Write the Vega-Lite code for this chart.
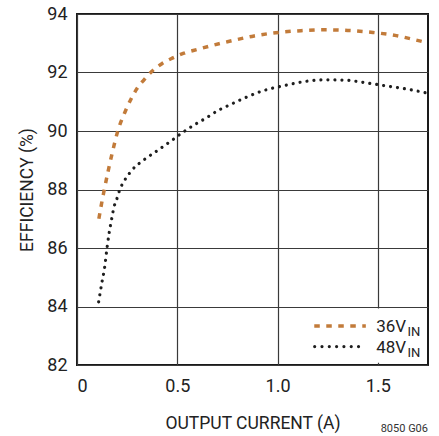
{
  "$schema": "https://vega.github.io/schema/vega-lite/v6.json",
  "width": 351,
  "height": 351,
  "autosize": {"type": "none"},
  "padding": {"left": 77, "top": 14, "right": 11, "bottom": 71},
  "background": "white",
  "title": {
    "text": "8050 G06",
    "orient": "bottom",
    "anchor": "end",
    "frame": "group",
    "font": "Roboto",
    "fontSize": 11,
    "fontWeight": "normal",
    "color": "#333",
    "offset": 0,
    "dy": -9
  },
  "config": {
    "font": "Roboto, sans-serif",
    "view": {"stroke": "#1a1a1a", "strokeWidth": 2},
    "axis": {
      "grid": true,
      "gridColor": "#3a3a3a",
      "gridWidth": 1.2,
      "domain": false,
      "ticks": false,
      "labelFont": "Roboto",
      "labelFontSize": 18,
      "labelColor": "#222",
      "titleFont": "Roboto",
      "titleFontSize": 17.5,
      "titleFontWeight": "normal",
      "titleColor": "#222"
    }
  },
  "datasets": {
    "curves": [
      {"vin": "36V", "current": 0.109, "efficiency": 87.0},
      {"vin": "36V", "current": 0.122, "efficiency": 87.5},
      {"vin": "36V", "current": 0.133, "efficiency": 87.89},
      {"vin": "36V", "current": 0.183, "efficiency": 89.46},
      {"vin": "36V", "current": 0.2, "efficiency": 89.92},
      {"vin": "36V", "current": 0.24, "efficiency": 90.66},
      {"vin": "36V", "current": 0.267, "efficiency": 91.06},
      {"vin": "36V", "current": 0.3, "efficiency": 91.46},
      {"vin": "36V", "current": 0.333, "efficiency": 91.74},
      {"vin": "36V", "current": 0.375, "efficiency": 92.05},
      {"vin": "36V", "current": 0.425, "efficiency": 92.31},
      {"vin": "36V", "current": 0.475, "efficiency": 92.49},
      {"vin": "36V", "current": 0.533, "efficiency": 92.66},
      {"vin": "36V", "current": 0.6, "efficiency": 92.79},
      {"vin": "36V", "current": 0.683, "efficiency": 92.94},
      {"vin": "36V", "current": 0.75, "efficiency": 93.05},
      {"vin": "36V", "current": 0.883, "efficiency": 93.25},
      {"vin": "36V", "current": 0.992, "efficiency": 93.36},
      {"vin": "36V", "current": 1.117, "efficiency": 93.43},
      {"vin": "36V", "current": 1.233, "efficiency": 93.46},
      {"vin": "36V", "current": 1.35, "efficiency": 93.44},
      {"vin": "36V", "current": 1.475, "efficiency": 93.37},
      {"vin": "36V", "current": 1.592, "efficiency": 93.26},
      {"vin": "36V", "current": 1.708, "efficiency": 93.08},
      {"vin": "36V", "current": 1.75, "efficiency": 93.01},
      {"vin": "48V", "current": 0.108, "efficiency": 84.16},
      {"vin": "48V", "current": 0.125, "efficiency": 84.85},
      {"vin": "48V", "current": 0.137, "efficiency": 85.3},
      {"vin": "48V", "current": 0.15, "efficiency": 86.02},
      {"vin": "48V", "current": 0.16, "efficiency": 86.5},
      {"vin": "48V", "current": 0.172, "efficiency": 86.96},
      {"vin": "48V", "current": 0.186, "efficiency": 87.44},
      {"vin": "48V", "current": 0.197, "efficiency": 87.64},
      {"vin": "48V", "current": 0.208, "efficiency": 87.89},
      {"vin": "48V", "current": 0.22, "efficiency": 88.1},
      {"vin": "48V", "current": 0.238, "efficiency": 88.32},
      {"vin": "48V", "current": 0.275, "efficiency": 88.67},
      {"vin": "48V", "current": 0.333, "efficiency": 89.01},
      {"vin": "48V", "current": 0.392, "efficiency": 89.29},
      {"vin": "48V", "current": 0.475, "efficiency": 89.69},
      {"vin": "48V", "current": 0.525, "efficiency": 89.94},
      {"vin": "48V", "current": 0.583, "efficiency": 90.2},
      {"vin": "48V", "current": 0.65, "efficiency": 90.47},
      {"vin": "48V", "current": 0.708, "efficiency": 90.72},
      {"vin": "48V", "current": 0.733, "efficiency": 90.8},
      {"vin": "48V", "current": 0.833, "efficiency": 91.12},
      {"vin": "48V", "current": 0.925, "efficiency": 91.37},
      {"vin": "48V", "current": 1.025, "efficiency": 91.54},
      {"vin": "48V", "current": 1.125, "efficiency": 91.68},
      {"vin": "48V", "current": 1.233, "efficiency": 91.75},
      {"vin": "48V", "current": 1.333, "efficiency": 91.74},
      {"vin": "48V", "current": 1.438, "efficiency": 91.65},
      {"vin": "48V", "current": 1.542, "efficiency": 91.54},
      {"vin": "48V", "current": 1.647, "efficiency": 91.43},
      {"vin": "48V", "current": 1.75, "efficiency": 91.29}
    ]
  },
  "layer": [
    {
      "data": {"name": "curves"},
      "transform": [{"filter": "datum.vin === '36V'"}],
      "mark": {"type": "line", "interpolate": "monotone", "color": "#c27b3a", "strokeWidth": 3.5, "strokeDash": [5.5, 6.5]},
      "encoding": {
        "x": {
          "field": "current", "type": "quantitative",
          "scale": {"domain": [0, 1.75], "nice": false},
          "axis": {
            "values": [0, 0.5, 1, 1.5],
            "labelExpr": "datum.value === 0 ? '0' : format(datum.value, '.1f')",
            "labelPadding": 12,
            "title": "OUTPUT CURRENT (A)",
            "titleX": 175.5, "titleY": 63, "titleBaseline": "alphabetic", "titleAlign": "center"
          }
        },
        "y": {
          "field": "efficiency", "type": "quantitative",
          "scale": {"domain": [82, 94], "nice": false, "zero": false},
          "axis": {
            "values": [82, 84, 86, 88, 90, 92, 94],
            "labelPadding": 10,
            "title": "EFFICIENCY (%)",
            "titleAngle": -90, "titleX": -45, "titleY": 175.5,
            "titleBaseline": "alphabetic", "titleAlign": "center"
          }
        }
      }
    },
    {
      "data": {"name": "curves"},
      "transform": [{"filter": "datum.vin === '48V'"}],
      "mark": {"type": "line", "interpolate": "monotone", "color": "#1e1e1e", "strokeWidth": 3.2, "strokeCap": "round", "strokeDash": [0.01, 7]},
      "encoding": {
        "x": {"field": "current", "type": "quantitative"},
        "y": {"field": "efficiency", "type": "quantitative"}
      }
    },
    {
      "data": {"values": [{}]},
      "mark": {"type": "rect", "color": "white"},
      "encoding": {
        "x": {"datum": 1.46}, "x2": {"datum": 1.72},
        "y": {"datum": 82.08}, "y2": {"datum": 83.93}
      }
    },
    {
      "data": {"values": [{}]},
      "mark": {"type": "rule", "color": "#c27b3a", "strokeWidth": 3.5, "strokeDash": [5.5, 6.5]},
      "encoding": {
        "x": {"datum": 1.183}, "x2": {"datum": 1.44},
        "y": {"datum": 83.33}
      }
    },
    {
      "data": {"values": [{}]},
      "mark": {"type": "rule", "color": "#1e1e1e", "strokeWidth": 3.2, "strokeCap": "round", "strokeDash": [0.01, 7.3]},
      "encoding": {
        "x": {"datum": 1.185}, "x2": {"datum": 1.44},
        "y": {"datum": 82.63}
      }
    },
    {
      "data": {"values": [{"label": "36V", "sub": "IN", "ly": 83.14, "sy": 82.99}, {"label": "48V", "sub": "IN", "ly": 82.40, "sy": 82.27}]},
      "layer": [
        {
          "mark": {"type": "text", "align": "left", "baseline": "alphabetic", "font": "Roboto", "fontSize": 17, "color": "#222"},
          "encoding": {
            "x": {"datum": 1.492},
            "y": {"field": "ly", "type": "quantitative"},
            "text": {"field": "label"}
          }
        },
        {
          "mark": {"type": "text", "align": "left", "baseline": "alphabetic", "font": "Roboto", "fontSize": 13, "color": "#222"},
          "encoding": {
            "x": {"datum": 1.648},
            "y": {"field": "sy", "type": "quantitative"},
            "text": {"field": "sub"}
          }
        }
      ]
    }
  ]
}
